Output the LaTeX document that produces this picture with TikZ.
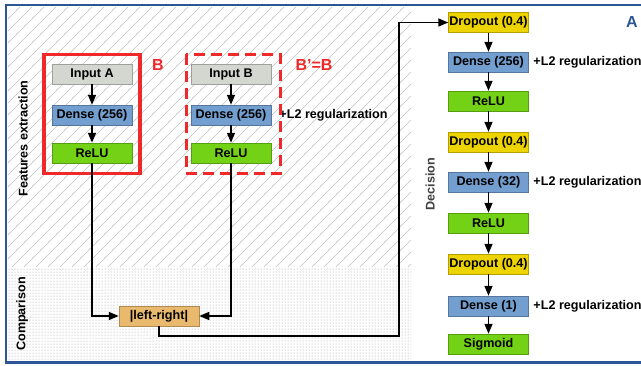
\documentclass[tikz,border=0pt]{standalone}
\usepackage{fontspec}
\setmainfont{Liberation Sans}
\usetikzlibrary{arrows.meta,patterns,positioning}

\definecolor{inputgray}{HTML}{D3D7CF}
\definecolor{denseblue}{HTML}{729FCF}
\definecolor{relugreen}{HTML}{73D216}
\definecolor{dropyellow}{HTML}{EDD400}
\definecolor{difforange}{HTML}{E9B96E}
\definecolor{groupred}{HTML}{EF2929}
\definecolor{frameblue}{HTML}{2C5696}

\tikzset{
  layer/.style={draw=#1!75!black, line width=0.5pt, fill=#1, minimum width=80pt,
    minimum height=20pt, inner sep=0pt, font=\fontsize{12.6}{14}\selectfont\bfseries},
  flow/.style={line width=1.5pt, -{Triangle[length=10pt,width=8pt]}},
  note/.style={inner sep=0pt, font=\fontsize{12.6}{14}\selectfont\bfseries},
  zone/.style={inner sep=0pt, font=\fontsize{12.6}{14}\selectfont\bfseries},
  grouplabel/.style={inner sep=0pt, text=groupred, font=\fontsize{16}{18}\selectfont\bfseries},
  hatch/.style={gray!50, line width=0.6pt}
}

\begin{document}
\begin{tikzpicture}[x=1pt, y=-1pt]
\useasboundingbox (0,0) rectangle (641,365);

% zones
\fill[pattern=dots, pattern color=gray!80] (8,267) rectangle (411,360);
\begin{scope}
  \clip (8,7) rectangle (411,267);
  \foreach \k in {-264,-252,...,420}
    \draw[hatch] (\k,267) -- ++(270,-270);
\end{scope}
\draw[frameblue, line width=2.5pt] (6,5) rectangle (700,362.5);

\node[zone, rotate=90] (zfeat) at (23,138.5) {Features extraction};
\node[zone, rotate=90] (zcomp) at (22,314) {Comparison};
\node[zone, rotate=90, text=black!75] (zdec) at (430,184) {Decision};

% two branches
\foreach \s/\x in {A/92,B/231}
{
  \node[layer=inputgray] (in\s) at (\x,74) {Input \s};
  \node[layer=denseblue] (den\s) at (\x,115) {Dense (256)};
  \node[layer=relugreen] (relu\s) at (\x,153) {ReLU};
  \draw[flow] (in\s) -- (den\s);
  \draw[flow] (den\s) -- (relu\s);
}
\node[note, right=8pt of denB] (l2B) {+L2 regularization};

\draw[groupred, line width=3.5pt] (44,54.3) rectangle (140,173.3);
\draw[groupred, line width=3.5pt, dash pattern=on 11pt off 6pt] (186.3,54.3) rectangle (280.5,173.3);
\node[grouplabel] (labB) at (158,65) {B};
\node[grouplabel] (labBB) at (314,65) {B’=B};

% comparison
\node[layer=difforange] (diff) at (159,316) {|left-right|};
\draw[flow] (reluA.south) |- (diff.west);
\draw[flow] (reluB.south) |- (diff.east);

% decision
\foreach \n/\y/\c/\t in {1/22.5/dropyellow/Dropout (0.4), 2/62/denseblue/Dense (256),
    3/101/relugreen/ReLU, 4/142/dropyellow/Dropout (0.4), 5/182/denseblue/Dense (32),
    6/223/relugreen/ReLU, 7/264/dropyellow/Dropout (0.4), 8/306/denseblue/Dense (1),
    9/344/relugreen/Sigmoid}
  \node[layer=\c] (dec\n) at (488.5,\y) {\t};
\foreach \n [remember=\n as \p (initially 1)] in {2,...,9}
  \draw[flow] (dec\p.south) -- (dec\n.north);
\foreach \n in {2,5,8}
  \node[note, right=4.5pt of dec\n] (l2\n) {+L2 regularization};
\node[grouplabel, text=frameblue] (labA) at (632,22) {A};

\coordinate (turn) at (399,336);
\draw[flow] (diff.south) |- (turn) |- (dec1.west);
\end{tikzpicture}
\end{document}
